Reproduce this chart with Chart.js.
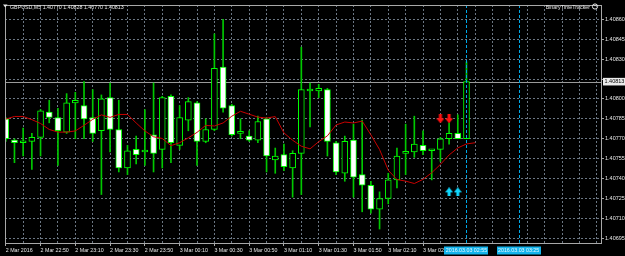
<!DOCTYPE html>
<html>
<head>
<meta charset="utf-8">
<script src="https://cdn.jsdelivr.net/npm/chart.js@4.4.1/dist/chart.umd.min.js"></script>
<style>
  html, body { margin: 0; padding: 0; background: #000; }
</style>
</head>
<body>
<canvas id="chart" width="625" height="256"></canvas>
<script>
// GBPUSD M5, one bar every 5 minutes from 2 Mar 22:30
const chartTitle = 'GBPUSD,M5 1.40770 1.40828 1.40770 1.40813';
const timeLabels = ['2 Mar 2016', '2 Mar 22:50', '2 Mar 23:10', '2 Mar 23:30', '2 Mar 23:50',
    '3 Mar 00:10', '3 Mar 00:30', '3 Mar 00:50', '3 Mar 01:10', '3 Mar 01:30',
    '3 Mar 01:50', '3 Mar 02:10', '3 Mar 02:30'];
const barsPerLabel = 4;
const barsPerGrid = 2;

const opens = [1.40785, 1.40769, 1.40767, 1.40768, 1.40771, 1.40790, 1.40786, 1.40775, 1.40797, 1.40795,
    1.40786, 1.40776, 1.40801, 1.40777, 1.40748, 1.40762, 1.40760, 1.40773, 1.40762, 1.40802,
    1.40765, 1.40784, 1.40797, 1.40768, 1.40777, 1.40824, 1.40795, 1.40774, 1.40772, 1.40769,
    1.40785, 1.40754, 1.40758, 1.40748, 1.40759, 1.40806, 1.40806, 1.40807, 1.40767, 1.40744,
    1.40769, 1.40743, 1.40735, 1.40717, 1.40725, 1.40739, 1.40759, 1.40760, 1.40765, 1.40761,
    1.40762, 1.40770, 1.40774, 1.40770];
const highs = [1.40786, 1.40770, 1.40778, 1.40774, 1.40792, 1.40799, 1.40793, 1.40804, 1.40805, 1.40813,
    1.40807, 1.40803, 1.40812, 1.40799, 1.40765, 1.40772, 1.40792, 1.40812, 1.40802, 1.40803,
    1.40795, 1.40801, 1.40798, 1.40785, 1.40849, 1.40860, 1.40796, 1.40785, 1.40776, 1.40787,
    1.40786, 1.40763, 1.40766, 1.40761, 1.40839, 1.40812, 1.40811, 1.40808, 1.40768, 1.40772,
    1.40781, 1.40784, 1.40738, 1.40730, 1.40744, 1.40763, 1.40781, 1.40787, 1.40776, 1.40762,
    1.40771, 1.40782, 1.40788, 1.40828];
const lows = [1.40768, 1.40752, 1.40757, 1.40747, 1.40757, 1.40782, 1.40750, 1.40774, 1.40770, 1.40770,
    1.40768, 1.40728, 1.40760, 1.40745, 1.40743, 1.40751, 1.40750, 1.40745, 1.40748, 1.40752,
    1.40762, 1.40776, 1.40750, 1.40767, 1.40776, 1.40790, 1.40772, 1.40770, 1.40768, 1.40767,
    1.40745, 1.40744, 1.40746, 1.40726, 1.40728, 1.40779, 1.40801, 1.40757, 1.40743, 1.40738,
    1.40726, 1.40715, 1.40714, 1.40702, 1.40721, 1.40733, 1.40743, 1.40756, 1.40758, 1.40739,
    1.40753, 1.40766, 1.40770, 1.40770];
const closes = [1.40770, 1.40767, 1.40767, 1.40771, 1.40791, 1.40786, 1.40776, 1.40797, 1.40799, 1.40785,
    1.40774, 1.40800, 1.40777, 1.40748, 1.40761, 1.40758, 1.40760, 1.40759, 1.40801, 1.40767,
    1.40786, 1.40798, 1.40768, 1.40777, 1.40823, 1.40793, 1.40773, 1.40774, 1.40769, 1.40783,
    1.40757, 1.40757, 1.40749, 1.40759, 1.40807, 1.40806, 1.40808, 1.40768, 1.40745, 1.40768,
    1.40741, 1.40735, 1.40717, 1.40725, 1.40739, 1.40757, 1.40759, 1.40766, 1.40761, 1.40761,
    1.40770, 1.40774, 1.40770, 1.40813];

// moving average (red line), one value per bar, shifted one bar forward
const maValues = [1.407848, 1.407868, 1.407868, 1.407844, 1.407815, 1.407770, 1.407750, 1.407750, 1.407759, 1.407801,
    1.407846, 1.407880, 1.407861, 1.407883, 1.407883, 1.407819, 1.407759, 1.407715, 1.407702, 1.407648,
    1.407670, 1.407707, 1.407748, 1.407801, 1.407796, 1.407819, 1.407870, 1.407907, 1.407885, 1.407863,
    1.407856, 1.407867, 1.407744, 1.407689, 1.407644, 1.407624, 1.407678, 1.407722, 1.407804, 1.407826,
    1.407819, 1.407833, 1.407730, 1.407619, 1.407463, 1.407393, 1.407381, 1.407363, 1.407394, 1.407444,
    1.407507, 1.407578, 1.407631, 1.407661, 1.407670];

const sellArrowBars = [50, 51];
const sellArrowPrices = [1.40785, 1.40785];
const buyArrowBars = [51, 52];
const buyArrowPrices = [1.40730, 1.40730];

const yTicks = [1.40695, 1.40710, 1.40725, 1.40740, 1.40755, 1.40770, 1.40785, 1.40800, 1.40815, 1.40830, 1.40845, 1.40860];
const bidPrice = 1.40813;
const vLineBars = [53, 59];
const vLineLabels = ['2016.03.03 02:55', '2016.03.03 03:25'];

const FONT = 'Liberation Sans';
const UP = '#00ff00';
const WICK = '#00c800';
const GRID = '#6c7784';
const TEXT = '#e6e6e6';
const VLINE = '#00a8e6';

function makeArrow(color, down) {
    const c = document.createElement('canvas');
    c.width = 8; c.height = 9;
    const g = c.getContext('2d');
    g.fillStyle = color;
    g.beginPath();
    if (down) {
        g.moveTo(2.5, 0); g.lineTo(5.5, 0); g.lineTo(5.5, 4); g.lineTo(8, 4);
        g.lineTo(4, 9); g.lineTo(0, 4); g.lineTo(2.5, 4);
    } else {
        g.moveTo(2.5, 9); g.lineTo(5.5, 9); g.lineTo(5.5, 5); g.lineTo(8, 5);
        g.lineTo(4, 0); g.lineTo(0, 5); g.lineTo(2.5, 5);
    }
    g.closePath();
    g.fill();
    return c;
}

const mtPlugin = {
    id: 'mt',
    beforeDraw(chart) {
        const ctx = chart.ctx;
        ctx.save();
        ctx.fillStyle = '#000';
        ctx.fillRect(0, 0, chart.width, chart.height);
        ctx.restore();
    },
    beforeDatasetsDraw(chart) {
        const {ctx, chartArea, scales} = chart;
        const y = Math.round(scales.y.getPixelForValue(bidPrice)) + 0.5;
        ctx.save();
        ctx.strokeStyle = '#9a9a9a';
        ctx.lineWidth = 1;
        ctx.beginPath();
        ctx.moveTo(chartArea.left, y);
        ctx.lineTo(chartArea.right, y);
        ctx.stroke();
        ctx.restore();
    },
    afterDatasetsDraw(chart) {
        const {ctx, chartArea, scales} = chart;
        ctx.save();
        ctx.strokeStyle = VLINE;
        ctx.lineWidth = 1;
        ctx.setLineDash([3, 2]);
        vLineBars.forEach(b => {
            const x = Math.round(scales.x.getPixelForValue(b)) + 0.5;
            ctx.beginPath();
            ctx.moveTo(x, chartArea.top);
            ctx.lineTo(x, chartArea.bottom);
            ctx.stroke();
        });
        ctx.restore();
    },
    afterDraw(chart) {
        const {ctx, chartArea, scales} = chart;
        ctx.save();
        // frame
        ctx.strokeStyle = '#a8a8a8';
        ctx.lineWidth = 1;
        ctx.strokeRect(chartArea.left + 0.5, chartArea.top + 0.5,
            chartArea.right - chartArea.left - 1, chartArea.bottom - chartArea.top - 1);

        // title
        ctx.fillStyle = TEXT;
        ctx.beginPath();
        ctx.moveTo(3, 4.5); ctx.lineTo(7.5, 4.5); ctx.lineTo(5.25, 7.5);
        ctx.closePath();
        ctx.fill();
        ctx.font = '5.3px "' + FONT + '"';
        ctx.textBaseline = 'alphabetic';
        ctx.textAlign = 'left';
        ctx.fillText(chartTitle, 10, 8.5);

        // indicator label top right
        ctx.textAlign = 'right';
        ctx.fillText('BinaryTimeTracker', 590, 8.5);
        ctx.strokeStyle = TEXT;
        ctx.beginPath();
        ctx.arc(595, 6.5, 2.6, 0, Math.PI * 2);
        ctx.stroke();
        ctx.fillRect(594, 5.3, 0.8, 0.8);
        ctx.fillRect(595.4, 5.3, 0.8, 0.8);

        // bid price label
        const by = scales.y.getPixelForValue(bidPrice);
        ctx.fillStyle = '#ececec';
        ctx.fillRect(chartArea.right + 1, by - 3.8, 22, 7.6);
        ctx.fillStyle = '#000';
        ctx.textAlign = 'left';
        ctx.textBaseline = 'middle';
        ctx.font = '5.5px "' + FONT + '"';
        ctx.fillText(bidPrice.toFixed(5), chartArea.right + 2.5, by + 0.3);

        // time labels of the vertical lines
        vLineBars.forEach((b, i) => {
            const x = scales.x.getPixelForValue(b);
            ctx.fillStyle = '#14b4ec';
            ctx.fillRect(Math.round(x - 22), 246.5, 44, 8);
            ctx.fillStyle = '#e8f8ff';
            ctx.textAlign = 'center';
            ctx.font = '5.3px "' + FONT + '"';
            ctx.fillText(vLineLabels[i], x, 250.8);
        });
        ctx.restore();
    }
};

const barX = opens.map((_, i) => i);

new Chart(document.getElementById('chart').getContext('2d'), {
    type: 'bar',
    data: {
        datasets: [
            {
                type: 'scatter',
                data: sellArrowBars.map((b, i) => ({x: b, y: sellArrowPrices[i]})),
                pointStyle: makeArrow('#ff1010', true),
                order: 0
            },
            {
                type: 'scatter',
                data: buyArrowBars.map((b, i) => ({x: b, y: buyArrowPrices[i]})),
                pointStyle: makeArrow('#10d8ff', false),
                order: 0
            },
            {
                type: 'line',
                data: maValues.map((v, i) => ({x: i, y: v})),
                borderColor: '#c80000',
                borderWidth: 1,
                pointRadius: 0,
                tension: 0,
                order: 1
            },
            {
                data: barX.map(i => ({x: i, y: [opens[i], closes[i]]})),
                backgroundColor: barX.map(i => closes[i] >= opens[i] ? '#000000' : '#ffffff'),
                borderColor: UP,
                borderWidth: 1,
                borderSkipped: false,
                barThickness: 6,
                minBarLength: 2,
                grouped: false,
                order: 2
            },
            {
                data: barX.map(i => ({x: i, y: [lows[i], highs[i]]})),
                backgroundColor: WICK,
                borderWidth: 0,
                barThickness: 1,
                grouped: false,
                order: 3
            }
        ]
    },
    options: {
        responsive: false,
        animation: false,
        devicePixelRatio: 1,
        layout: { padding: { left: 1, top: 1, right: 0, bottom: 0 } },
        plugins: { legend: { display: false }, tooltip: { enabled: false } },
        events: [],
        scales: {
            x: {
                type: 'linear',
                offset: false,
                min: -0.09,
                max: 68.59,
                grid: {
                    offset: false,
                    color: GRID,
                    tickLength: 2,
                    tickColor: ctx => (ctx.tick && ctx.tick.label) ? '#a8a8a8' : 'rgba(0,0,0,0)',
                    tickBorderDash: []
                },
                border: { display: false, dash: [2, 2] },
                afterBuildTicks(axis) {
                    const t = [];
                    for (let v = 0; v <= axis.max; v += barsPerGrid) t.push({value: v});
                    axis.ticks = t;
                },
                ticks: {
                    autoSkip: false,
                    maxRotation: 0,
                    align: 'start',
                    padding: 1,
                    color: TEXT,
                    font: { family: FONT, size: 5.3 },
                    callback(v) {
                        if (v % barsPerLabel !== 0) return '';
                        return timeLabels[v / barsPerLabel] || '';
                    }
                },
                afterFit(scale) {
                    scale.height = 12;
                    scale.paddingLeft = 0;
                    scale.paddingRight = 0;
                }
            },
            y: {
                position: 'right',
                min: 1.4069074,
                max: 1.4087074,
                grid: {
                    color: GRID,
                    tickLength: 2,
                    tickColor: '#a8a8a8',
                    tickBorderDash: []
                },
                border: { display: false, dash: [2, 2] },
                afterBuildTicks(axis) {
                    axis.ticks = yTicks.map(v => ({value: v}));
                },
                ticks: {
                    padding: 1,
                    color: TEXT,
                    font: { family: FONT, size: 5.5 },
                    callback(v) {
                        if (Math.abs(v - bidPrice) < 0.00005) return '';
                        return v.toFixed(5);
                    }
                },
                afterFit(scale) {
                    scale.width = 23;
                    scale.paddingTop = 0;
                    scale.paddingBottom = 0;
                }
            }
        }
    },
    plugins: [mtPlugin]
});
</script>
</body>
</html>
